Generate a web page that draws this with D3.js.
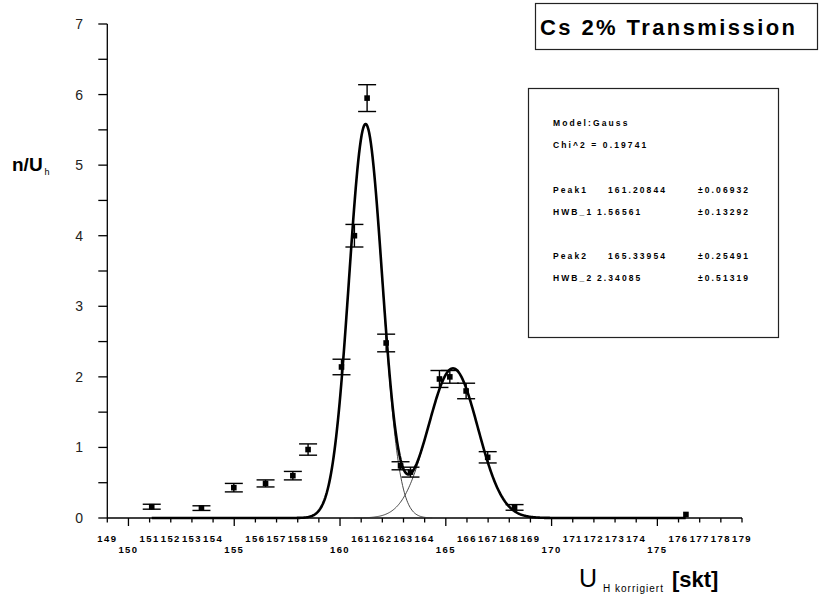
<!DOCTYPE html>
<html>
<head>
<meta charset="utf-8">
<script src="https://cdn.jsdelivr.net/npm/d3@7/dist/d3.min.js"></script>
<style>
  html, body { margin: 0; padding: 0; background: #fff; }
  svg { display: block; font-family: "Liberation Sans", Arial, sans-serif; }
</style>
</head>
<body>
<svg id="chart" width="822" height="600"></svg>
<script>
// Measured channel positions (U_H korrigiert, skt) and normalised counts n/U_h
const channels = [151.10, 153.45, 154.98, 156.48, 157.77, 158.49, 160.07, 160.68, 161.28,
                  162.18, 162.86, 163.33, 164.70, 165.19, 165.96, 166.98, 168.25, 176.35];
const counts   = [0.16, 0.14, 0.43, 0.49, 0.60, 0.97, 2.14, 4.00, 5.95,
                  2.48, 0.74, 0.65, 1.97, 2.00, 1.80, 0.86, 0.15, 0.05];
const errors   = [0.035, 0.033, 0.06, 0.05, 0.06, 0.08, 0.11, 0.16, 0.19,
                  0.125, 0.057, 0.07, 0.12, 0.09, 0.11, 0.08, 0.04, 0];

// Gauss fit results (centre, width w) and peak heights
const peakCentres = [161.20844, 165.33954];
const peakWidths  = [1.56561, 2.34085];
const peakHeights = [5.58, 2.12];

const xTicks = d3.range(149, 180);
const yTicks = [0, 1, 2, 3, 4, 5, 6, 7];
const yMinorTicks = [0.5, 1.5, 2.5, 3.5, 4.5, 5.5, 6.5];

const fitLines = [
  ["Model:Gauss", "", ""],
  ["Chi^2 = 0.19741", "", ""],
  ["", "", ""],
  ["Peak1", "161.20844", "\u00b10.06932"],
  ["HWB_1", "1.56561", "\u00b10.13292"],
  ["", "", ""],
  ["Peak2", "165.33954", "\u00b10.25491"],
  ["HWB_2", "2.34085", "\u00b10.51319"]
];

const svg = d3.select("#chart");
const x = d3.scaleLinear().domain([149, 179]).range([107.3, 742]);
const y = d3.scaleLinear().domain([0, 7]).range([518, 24]);

// Gauss model as used by the fit: y = A * exp(-2 ((x - xc)/w)^2)
const gauss = (u, i) => peakHeights[i] * Math.exp(-2 * Math.pow((u - peakCentres[i]) / peakWidths[i], 2));
const total = u => gauss(u, 0) + gauss(u, 1);

// ---- axes ----
const axes = svg.append("g").attr("stroke", "#000").attr("stroke-width", 1.3);
axes.append("line").attr("x1", x(149)).attr("x2", x(179)).attr("y1", y(0)).attr("y2", y(0));
axes.append("line").attr("x1", x(149)).attr("x2", x(149)).attr("y1", y(0)).attr("y2", y(7));

xTicks.forEach(t => {
  const major = t % 5 === 0;
  axes.append("line")
    .attr("x1", x(t)).attr("x2", x(t))
    .attr("y1", y(0)).attr("y2", y(0) + (major ? 8 : 4.5));
});
yTicks.concat(yMinorTicks).forEach(t => {
  axes.append("line")
    .attr("x1", x(149) - 9).attr("x2", x(149))
    .attr("y1", y(t)).attr("y2", y(t));
});

svg.append("g").selectAll("text").data(xTicks).join("text")
  .attr("x", d => x(d))
  .attr("y", d => d % 5 === 0 ? 553 : 542)
  .attr("text-anchor", "middle")
  .attr("font-size", 9.5).attr("font-weight", "bold")
  .attr("letter-spacing", 1.4)
  .text(d => d);

svg.append("g").selectAll("text").data(yTicks).join("text")
  .attr("x", 83).attr("y", d => y(d) + 5)
  .attr("text-anchor", "end")
  .attr("font-size", 14).attr("fill", "#222")
  .text(d => d);

// ---- axis titles ----
const yl = svg.append("text").attr("x", 12).attr("y", 171)
  .attr("font-size", 19).attr("font-weight", "bold");
yl.append("tspan").text("n/U");
yl.append("tspan").attr("font-size", 9).attr("font-weight", "normal").attr("dx", 2).attr("dy", 4).text("h");

const xl = svg.append("text").attr("x", 579).attr("y", 587);
xl.append("tspan").attr("font-size", 25).text("U");
xl.append("tspan").attr("font-size", 10).attr("dx", 6).attr("dy", 5).attr("letter-spacing", 1).text("H korrigiert");
xl.append("tspan").attr("font-size", 22).attr("font-weight", "bold").attr("dx", 8).attr("dy", -5).text("[skt]");

// ---- fit curves ----
const line = d3.line().x(d => x(d[0])).y(d => y(d[1])).curve(d3.curveLinear);
const step = 0.04;

[0, 1].forEach(i => {
  const lo = peakCentres[i] - 2 * peakWidths[i];
  const hi = peakCentres[i] + 2 * peakWidths[i];
  const pts = d3.range(lo, hi + step / 2, step).map(u => [u, gauss(u, i)]);
  svg.append("path").attr("d", line(pts))
    .attr("fill", "none").attr("stroke", "#333").attr("stroke-width", 0.9);
});

const lo = channels[0], hi = channels[channels.length - 1];
const totalPts = d3.range(lo, hi + step / 2, step).map(u => [u, total(u)]);
svg.append("path").attr("d", line(totalPts))
  .attr("fill", "none").attr("stroke", "#000").attr("stroke-width", 2.6)
  .attr("stroke-linejoin", "round");

// ---- data points with error bars ----
const pts = svg.append("g");
channels.forEach((u, i) => {
  const cx = x(u), v = counts[i], e = errors[i];
  if (e > 0) {
    const g = pts.append("g").attr("stroke", "#000").attr("stroke-width", 1.4);
    g.append("line").attr("x1", cx).attr("x2", cx).attr("y1", y(v - e)).attr("y2", y(v + e));
    g.append("line").attr("x1", cx - 9).attr("x2", cx + 9).attr("y1", y(v - e)).attr("y2", y(v - e));
    g.append("line").attr("x1", cx - 9).attr("x2", cx + 9).attr("y1", y(v + e)).attr("y2", y(v + e));
  }
  pts.append("rect").attr("x", cx - 2.8).attr("y", y(v) - 2.8)
    .attr("width", 5.6).attr("height", 5.6).attr("fill", "#000");
});

// ---- title box ----
svg.append("rect").attr("x", 535.5).attr("y", 3.5).attr("width", 282).attr("height", 46)
  .attr("fill", "#fff").attr("stroke", "#222").attr("stroke-width", 1.2);
svg.append("text").attr("x", 540).attr("y", 35)
  .attr("font-size", 22).attr("font-weight", "bold")
  .attr("textLength", 255).attr("lengthAdjust", "spacing")
  .text("Cs 2% Transmission");

// ---- fit result box ----
svg.append("rect").attr("x", 528.5).attr("y", 88.5).attr("width", 250).attr("height", 249)
  .attr("fill", "#fff").attr("stroke", "#222").attr("stroke-width", 1.2);
const rowY = [126, 148, 170, 193, 215, 237, 259, 281];
const colX = [553, 608, 698];
fitLines.forEach((row, r) => {
  row.forEach((s, c) => {
    if (!s) return;
    let cx = colX[c];
    if (c === 1 && row[0].startsWith("HWB")) cx = 597;
    svg.append("text").attr("x", cx).attr("y", rowY[r])
      .attr("font-size", 8.5).attr("font-weight", "bold")
      .attr("letter-spacing", 2.1)
      .text(s);
  });
});
</script>
</body>
</html>
